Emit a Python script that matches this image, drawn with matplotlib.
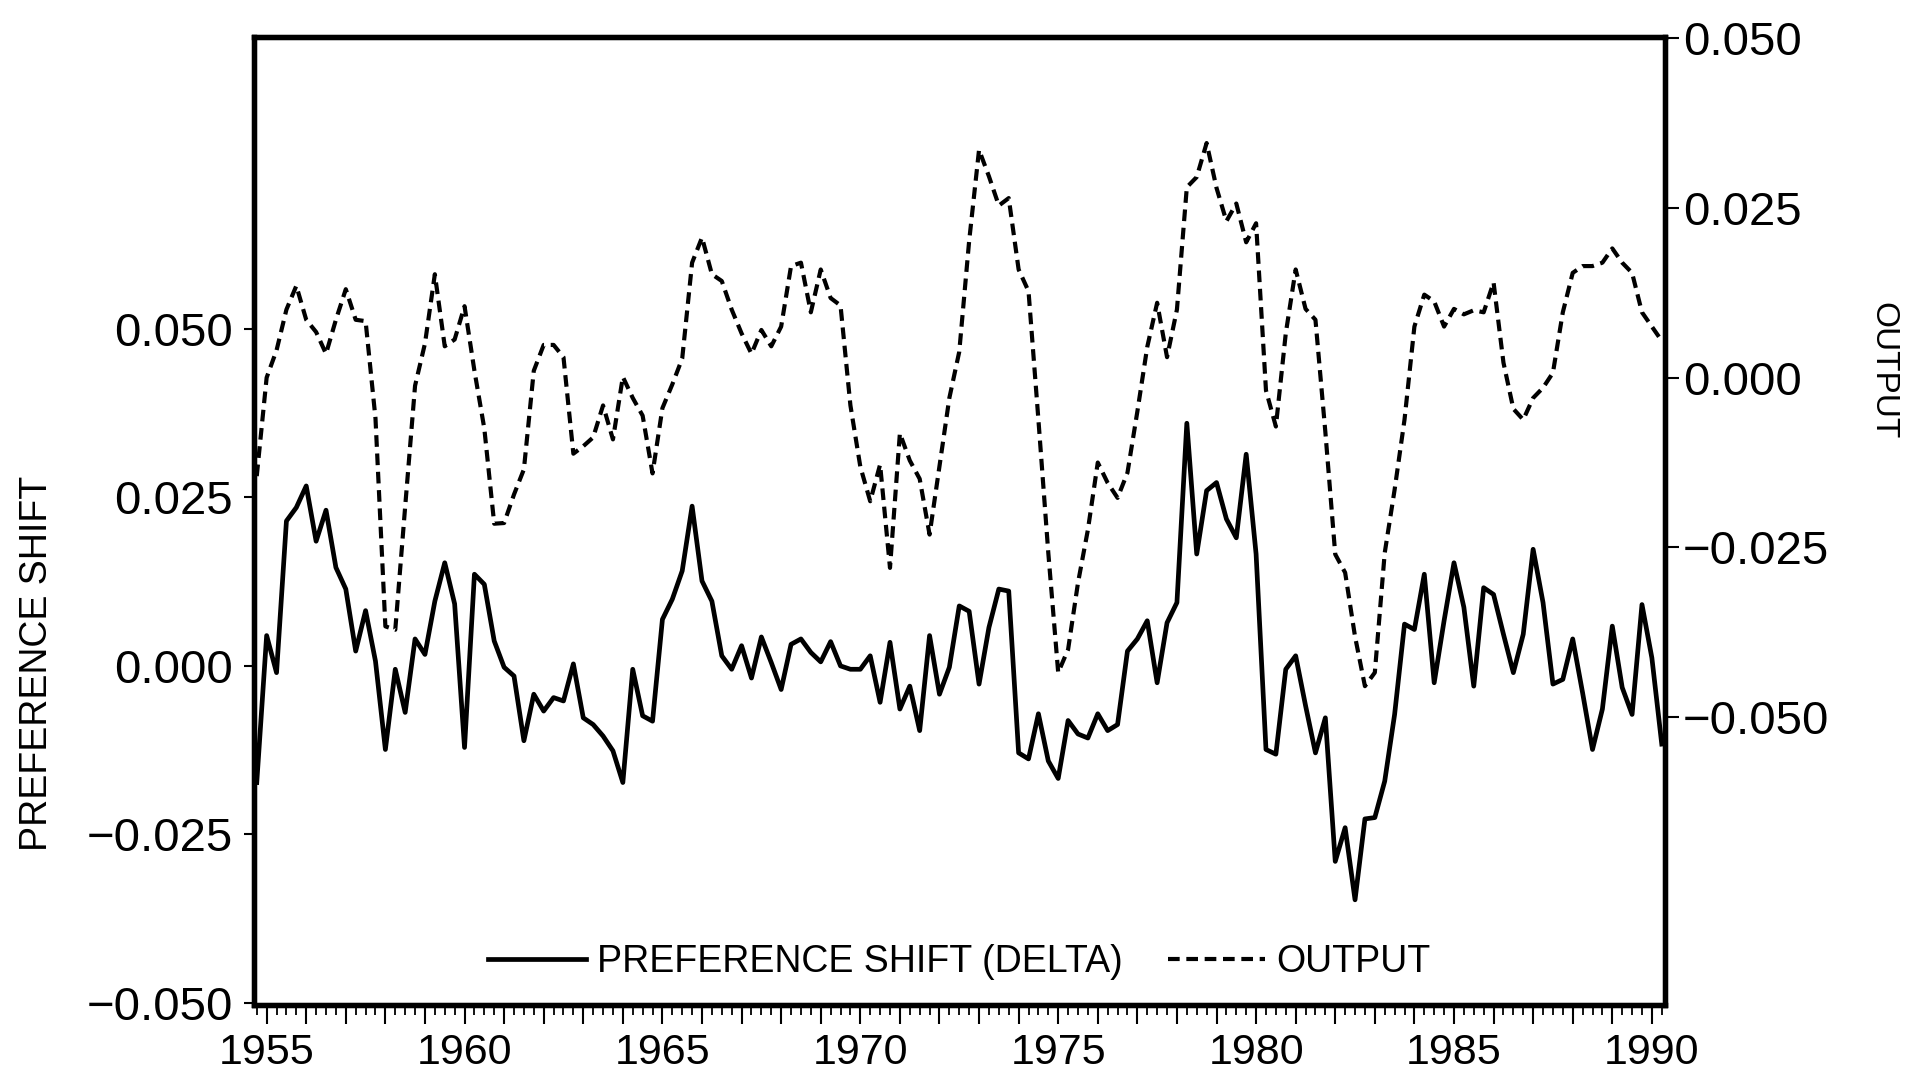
import numpy as np
import pandas as pd
import matplotlib
matplotlib.use('Agg')
import matplotlib.pyplot as plt
from matplotlib.ticker import MultipleLocator, FuncFormatter

# quarterly sample, 1954Q4 - 1990Q2
quarters = pd.period_range('1954Q4', '1990Q2', freq='Q')

pref_shift = [
    -0.0173, 0.0045, -0.0010, 0.0215, 0.0235, 0.0267, 0.0185, 0.0231, 0.0146, 0.0114,
    0.0022, 0.0082, 0.0007, -0.0124, -0.0005, -0.0069, 0.0040, 0.0017, 0.0096, 0.0153,
    0.0092, -0.0121, 0.0136, 0.0121, 0.0037, -0.0002, -0.0015, -0.0111, -0.0042, -0.0067,
    -0.0047, -0.0052, 0.0003, -0.0077, -0.0087, -0.0104, -0.0126, -0.0173, -0.0005, -0.0074,
    -0.0082, 0.0069, 0.0099, 0.0141, 0.0237, 0.0126, 0.0096, 0.0015, -0.0005, 0.0030,
    -0.0018, 0.0043, 0.0005, -0.0035, 0.0032, 0.0040, 0.0020, 0.0006, 0.0036, 0.0000,
    -0.0005, -0.0005, 0.0015, -0.0054, 0.0035, -0.0064, -0.0030, -0.0096, 0.0045, -0.0042,
    -0.0002, 0.0089, 0.0081, -0.0027, 0.0057, 0.0114, 0.0111, -0.0129, -0.0138, -0.0071,
    -0.0141, -0.0167, -0.0081, -0.0101, -0.0107, -0.0071, -0.0096, -0.0087, 0.0022, 0.0040,
    0.0067, -0.0025, 0.0064, 0.0094, 0.0360, 0.0166, 0.0260, 0.0272, 0.0218, 0.0190,
    0.0314, 0.0166, -0.0124, -0.0131, -0.0005, 0.0015, -0.0059, -0.0129, -0.0077, -0.0290,
    -0.0240, -0.0347, -0.0227, -0.0225, -0.0171, -0.0072, 0.0062, 0.0054, 0.0136, -0.0025,
    0.0067, 0.0153, 0.0087, -0.0030, 0.0116, 0.0106, 0.0047, -0.0010, 0.0047, 0.0173,
    0.0094, -0.0027, -0.0020, 0.0040, -0.0040, -0.0124, -0.0064, 0.0059, -0.0032, -0.0072,
    0.0091, 0.0012, -0.0116,
]

output = [
    -0.0145, 0.0000, 0.0040, 0.0100, 0.0135, 0.0085, 0.0067, 0.0035, 0.0085, 0.0130,
    0.0085, 0.0083, -0.0060, -0.0366, -0.0371, -0.0190, -0.0012, 0.0050, 0.0152, 0.0046,
    0.0056, 0.0105, 0.0010, -0.0075, -0.0215, -0.0214, -0.0172, -0.0135, 0.0010, 0.0048,
    0.0048, 0.0030, -0.0112, -0.0101, -0.0088, -0.0041, -0.0091, 0.0001, -0.0030, -0.0056,
    -0.0141, -0.0045, -0.0010, 0.0028, 0.0169, 0.0206, 0.0152, 0.0142, 0.0100, 0.0065,
    0.0035, 0.0070, 0.0046, 0.0075, 0.0164, 0.0169, 0.0096, 0.0159, 0.0117, 0.0106,
    -0.0041, -0.0131, -0.0182, -0.0128, -0.0280, -0.0082, -0.0122, -0.0149, -0.0231, -0.0131,
    -0.0030, 0.0038, 0.0201, 0.0335, 0.0296, 0.0253, 0.0264, 0.0159, 0.0127, -0.0062,
    -0.0258, -0.0434, -0.0400, -0.0302, -0.0224, -0.0125, -0.0155, -0.0177, -0.0140, -0.0050,
    0.0045, 0.0110, 0.0030, 0.0100, 0.0280, 0.0295, 0.0345, 0.0279, 0.0230, 0.0256,
    0.0199, 0.0227, -0.0019, -0.0072, 0.0065, 0.0159, 0.0101, 0.0085, -0.0080, -0.0260,
    -0.0287, -0.0381, -0.0454, -0.0434, -0.0258, -0.0165, -0.0062, 0.0075, 0.0122, 0.0112,
    0.0075, 0.0101, 0.0093, 0.0099, 0.0096, 0.0140, 0.0022, -0.0046, -0.0062, -0.0030,
    -0.0015, 0.0007, 0.0096, 0.0154, 0.0164, 0.0164, 0.0169, 0.0190, 0.0169, 0.0154,
    0.0096, 0.0075, 0.0054,
]

y_ticks = [-0.050, -0.025, 0.000, 0.025, 0.050]

FONT = ['Liberation Sans', 'DejaVu Sans']

x = quarters.year + (quarters.quarter - 1) / 4.0


def fmt3(v, pos):
    return f"{v:.3f}".replace('-', '\u2212')


def year_fmt(v, pos):
    yr = int(round(v))
    return str(yr) if yr % 5 == 0 else ''


fig = plt.figure(figsize=(19.27, 10.82), dpi=100)
ax = fig.add_axes([0.1318, 0.0712, 0.7322, 0.8946])
ax2 = ax.twinx()

l1, = ax.plot(x, pref_shift, color='black', lw=3.4)
l2, = ax2.plot(x, output, color='black', lw=3.0, linestyle=(0, (2.8, 1.6)))

ax.set_xlim(1954.68, 1990.33)
ax.set_ylim(-0.0503, 0.0933)
ax2.set_ylim(-0.0923, 0.0501)

ax.xaxis.set_major_locator(MultipleLocator(1))
ax.xaxis.set_minor_locator(MultipleLocator(0.25))
ax.xaxis.set_major_formatter(FuncFormatter(year_fmt))
ax.tick_params(axis='x', which='major', direction='out', length=14, width=1.5,
               pad=6, labelsize=31, labelfontfamily=FONT[0])
ax.tick_params(axis='x', which='minor', direction='out', length=7, width=1.3)

ax.set_yticks(y_ticks)
ax.yaxis.set_major_formatter(FuncFormatter(fmt3))
ax.tick_params(axis='y', direction='out', length=7, width=1.5, pad=8,
               labelsize=34, labelfontfamily=FONT[0])

ax2.set_yticks(y_ticks)
ax2.yaxis.set_major_formatter(FuncFormatter(fmt3))
ax2.tick_params(axis='y', direction='out', length=10, width=1.5, pad=3,
                labelsize=34, labelfontfamily=FONT[0])

for a in (ax, ax2):
    for s in a.spines.values():
        s.set_linewidth(3.8)

fig.text(37 / 1927, 1 - 663 / 1082, 'PREFERENCE SHIFT', rotation=90,
         ha='center', va='center', fontsize=27, family=FONT)
fig.text(1883 / 1927, 1 - 371 / 1082, 'OUTPUT', rotation=-90,
         ha='center', va='center', fontsize=24, family=FONT)

ax2.legend([l1, l2], ['PREFERENCE SHIFT (DELTA)', 'OUTPUT'], ncol=2,
           loc='center', bbox_to_anchor=(0.5, 0.044), frameon=False,
           prop={'family': FONT, 'size': 27}, handlelength=2.6,
           handletextpad=0.3, columnspacing=1.2)

fig.savefig('out.png', dpi=100)
